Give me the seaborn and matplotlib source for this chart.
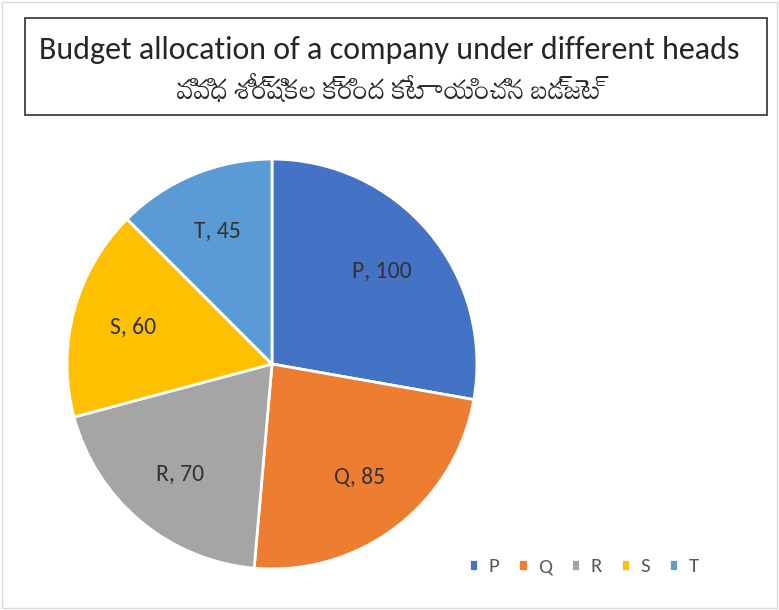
import matplotlib
matplotlib.use("Agg")
import matplotlib.pyplot as plt
import seaborn as sns
from matplotlib.patches import Rectangle

categorias = ["P", "Q", "R", "S", "T"]
valores = [100, 85, 70, 60, 45]
cores = ["#4472C4", "#ED7D31", "#A5A5A5", "#FFC000", "#5B9BD5"]
titulo_en = "Budget allocation of a company under different heads"
titulo_te = "వివిధ శీర్షికల క్రింద కేటాయించిన బడ్జెట్"

sns.set_theme(style="white")
plt.rcParams["font.family"] = ["Carlito", "Lato", "Mandali", "DejaVu Sans"]

fig = plt.figure(figsize=(7.79, 6.10), dpi=100)
fig.patch.set_facecolor("white")

# borda externa clara
fig.add_artist(Rectangle((0.003, 0.003), 0.994, 0.994, transform=fig.transFigure,
                         fill=False, edgecolor="#D9D9D9", linewidth=1))
# caixa do titulo
fig.add_artist(Rectangle((25 / 779, 1 - 115 / 610), 742 / 779, 97 / 610, transform=fig.transFigure,
                         fill=False, edgecolor="#404040", linewidth=1.3))
fig.text(0.5, 1 - 50 / 610, titulo_en, ha="center", va="center", fontsize=23, color="#262626")
fig.text(0.5, 1 - 89 / 610, titulo_te, ha="center", va="center", fontsize=20, color="#262626")

ax = fig.add_axes([65 / 779, (610 - 364 - 207) / 610, 414 / 779, 414 / 610])
rotulos = [f"{c}, {v}" for c, v in zip(categorias, valores)]
wedges, textos = ax.pie(valores, colors=cores, startangle=90, counterclock=False,
                        labels=rotulos, labeldistance=0.7,
                        wedgeprops=dict(edgecolor="white", linewidth=2))
for t in textos:
    t.set_ha("center")
    t.set_va("center")
    t.set_fontsize(17)
    t.set_color("#333333")
ax.set_aspect("equal")
ax.set_xlim(-1.01, 1.01)
ax.set_ylim(-1.01, 1.01)

fig.legend(wedges, categorias, loc="center", bbox_to_anchor=(584 / 779, 1 - 567 / 610),
           ncol=5, frameon=False, fontsize=15, handlelength=0.45, handleheight=0.45,
           handletextpad=0.5, columnspacing=0.9, labelcolor="#595959")

fig.savefig("out.png", dpi=100)
